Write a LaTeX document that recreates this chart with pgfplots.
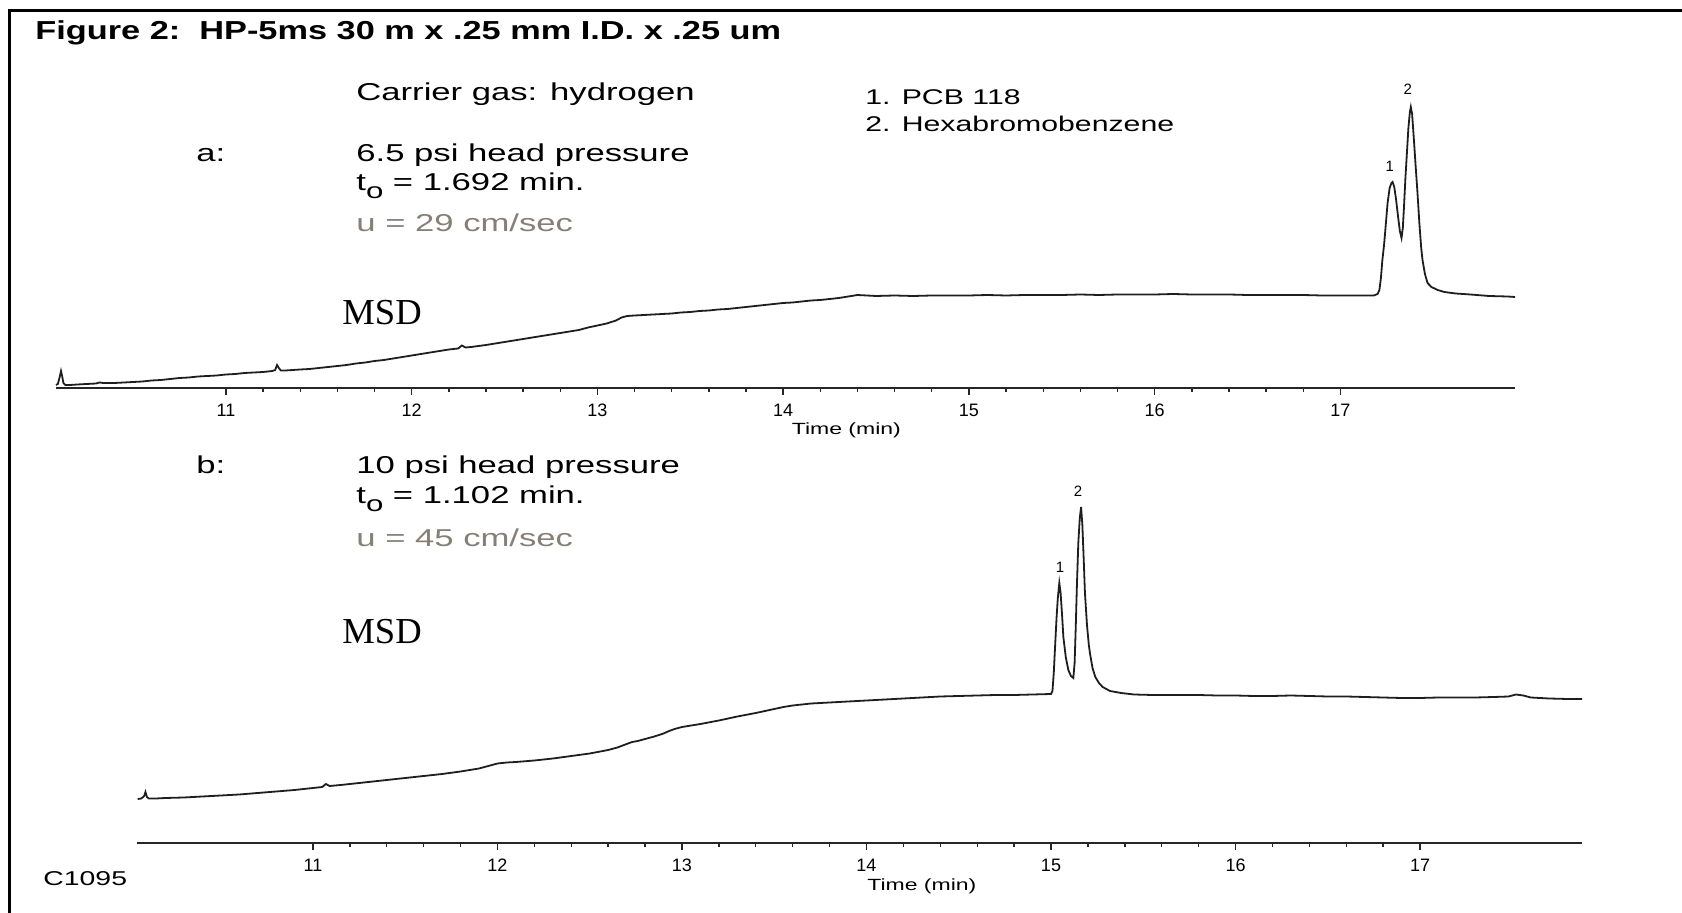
\documentclass[border=0pt]{standalone}
\usepackage{fontspec}
\setmainfont{Liberation Sans}
\newfontfamily\wfont[FakeStretch=1.42]{Liberation Sans}
\newfontfamily\tfont[FakeStretch=1.32]{Liberation Sans}
\newfontfamily\msdfont{Liberation Serif}
\usepackage{graphicx}
\usepackage{pgfplots}
\pgfplotsset{compat=1.18}
\definecolor{ugrey}{RGB}{135,127,118}
\definecolor{trace}{RGB}{30,30,30}
\newcommand{\tsub}{t\raisebox{-0.55ex}{\scalebox{0.9}{o}}}

\pgfplotstableread{
t h
10.085 3
10.095 4
10.105 11
10.112 17
10.118 12
10.125 5
10.135 3
10.16 3
10.20 3.5
10.25 4
10.30 4.5
10.32 5.5
10.34 5
10.40 5
10.45 5.5
10.50 6
10.55 6.5
10.60 7.5
10.65 8
10.70 9
10.75 10
10.80 10.5
10.85 11.5
10.90 12
10.95 12.5
11.00 13.5
11.05 14
11.10 15
11.15 15.5
11.20 16
11.25 17
11.265 18
11.275 23
11.285 20
11.295 17.5
11.32 17.5
11.36 18
11.40 18.5
11.45 19
11.50 20
11.55 21
11.60 22
11.65 23
11.70 24.5
11.75 25.5
11.80 27
11.85 28
11.90 29.5
11.95 31
12.00 32.5
12.05 34
12.10 35.5
12.15 37
12.20 38.5
12.25 39.5
12.27 42.5
12.29 40.5
12.32 41
12.36 42
12.40 43
12.45 44.5
12.50 46
12.55 47.5
12.60 49
12.65 50.5
12.70 52
12.75 53.5
12.80 55
12.85 56.5
12.90 58
12.95 60.5
13.00 62.5
13.05 64.5
13.10 67.5
13.13 70.5
13.16 72
13.20 72.5
13.25 73
13.30 73.5
13.35 74
13.40 74.5
13.45 75.5
13.50 76
13.55 77
13.60 77.5
13.65 78.5
13.70 79
13.75 80
13.80 81
13.85 82
13.90 83
13.95 84
14.00 85
14.05 85.5
14.10 86.5
14.15 87.5
14.20 88
14.25 89
14.30 90
14.35 91.5
14.40 93
14.45 92.5
14.50 92
14.60 92.5
14.70 92
14.80 92.5
14.90 92.5
15.00 92.5
15.10 93
15.20 92.5
15.30 93
15.40 93
15.50 93
15.60 93.5
15.70 93
15.80 93.5
15.90 93.5
16.00 93.5
16.10 94
16.20 93.5
16.30 93.5
16.40 93.5
16.50 93
16.60 93
16.70 93
16.80 93
16.90 92.5
17.00 92.5
17.10 92.5
17.18 92.5
17.20 94
17.21 98
17.218 110
17.226 128
17.236 145
17.245 165
17.254 185
17.265 200
17.275 205
17.281 206
17.290 201
17.300 188
17.310 172
17.320 157
17.329 150
17.336 160
17.342 180
17.350 210
17.358 235
17.366 260
17.374 276
17.379 281
17.386 274
17.395 250
17.405 222
17.415 195
17.425 165
17.435 140
17.442 128
17.455 114
17.469 105
17.49 101
17.523 98
17.56 96
17.62 94.5
17.70 93.5
17.80 92
17.90 91.5
17.94 91
}\topdata

\pgfplotstableread{
t h
10.05 44
10.07 44.5
10.085 47
10.092 51
10.10 46
10.11 44.5
10.15 44.5
10.20 45
10.30 45.5
10.40 46.5
10.50 47.5
10.60 48.5
10.70 50
10.80 51.5
10.90 53
11.00 55
11.05 56
11.07 59
11.09 57
11.15 58
11.20 59
11.30 61
11.40 63
11.50 65
11.60 67
11.70 69
11.80 71.5
11.90 74.5
11.95 77
12.00 79.5
12.05 80.5
12.10 81
12.20 82.5
12.30 84.5
12.40 87
12.50 89.5
12.60 93
12.65 95.5
12.70 99
12.73 101
12.76 102
12.80 104
12.85 106.5
12.90 109.5
12.93 112
12.96 114
13.00 116
13.05 117.5
13.10 119
13.20 122.5
13.30 126.5
13.40 130
13.50 134
13.55 136
13.60 137.5
13.65 138.5
13.70 139.5
13.80 140.5
13.90 141.5
14.00 142.5
14.10 143.5
14.20 144.5
14.30 145.5
14.40 146.5
14.50 147
14.60 147.5
14.70 148
14.80 148
14.90 148.5
15.000 149
15.008 152
15.015 170
15.022 196
15.030 225
15.037 245
15.045 260
15.052 250
15.060 228
15.067 206
15.080 186
15.094 173
15.108 167
15.121 165
15.128 180
15.134 215
15.140 255
15.148 300
15.156 325
15.163 336
15.170 318
15.177 285
15.184 250
15.195 218
15.205 198
15.211 190
15.225 175
15.240 166
15.260 160
15.280 156
15.32 152
15.38 150
15.45 148.5
15.55 148
15.70 148
15.80 148
15.90 147.5
16.00 147.5
16.10 147
16.20 147
16.30 147.5
16.40 147
16.50 146.5
16.60 146.5
16.70 146
16.80 145.5
16.90 145
17.00 145
17.10 145.5
17.20 145.5
17.30 145.5
17.40 146
17.48 146.5
17.52 148.5
17.56 147.5
17.60 145.5
17.70 144.5
17.80 144
17.878 144
}\botdata

\pgfplotsset{chrom/.style={
  scale only axis,
  axis x line=bottom, axis y line=none,
  axis line style={-, line width=0.9pt, color=black!85},
  enlargelimits=false, clip=false,
  xtick={11,12,13,14,15,16,17}, minor x tick num=4,
  tick align=outside, major tick length=3.5pt, minor tick length=1.8pt,
  every tick/.style={black!85, line width=0.7pt},
  xticklabel style={font=\fontsize{9}{10}\selectfont, yshift=-1pt},
  /pgf/number format/assume math mode=true,
  ymin=0,
}}

\begin{document}
\begin{tikzpicture}
\path[use as bounding box] (0pt,0pt) rectangle (841pt,-456.5pt);
\draw[line width=1.5pt] (4.5pt,-460pt) -- (4.5pt,-5.5pt) -- (845pt,-5.5pt);

\node[anchor=base west, inner sep=0pt, font=\tfont\bfseries\fontsize{13}{14}\selectfont] at (17.5pt,-20pt) {Figure 2:\ \ HP-5ms 30 m x .25 mm I.D. x .25 um};

\begin{scope}[every node/.style={anchor=base west, inner sep=0pt, font=\wfont\fontsize{12.2}{14}\selectfont}]
\node at (178pt,-50.5pt) {Carrier gas: hydrogen};
\node at (98pt,-81pt) {a:};
\node at (178pt,-81pt) {6.5 psi head pressure};
\node at (178pt,-95.5pt) {\tsub{} = 1.692 min.};
\node[text=ugrey] at (178pt,-116pt) {u = 29 cm/sec};
\node at (98pt,-237pt) {b:};
\node at (178pt,-237pt) {10 psi head pressure};
\node at (178pt,-252pt) {\tsub{} = 1.102 min.};
\node[text=ugrey] at (178pt,-273.5pt) {u = 45 cm/sec};
\end{scope}
\node[anchor=base west, inner sep=0pt, font=\wfont\fontsize{10.65}{12}\selectfont] at (432.5pt,-52.5pt) {1. PCB 118};
\node[anchor=base west, inner sep=0pt, font=\wfont\fontsize{10.65}{12}\selectfont] at (432.5pt,-66pt) {2. Hexabromobenzene};
\node[anchor=base west, inner sep=0pt, font=\msdfont\fontsize{18.3}{20}\selectfont] at (171pt,-162.5pt) {MSD};
\node[anchor=base west, inner sep=0pt, font=\msdfont\fontsize{18.3}{20}\selectfont] at (171pt,-322pt) {MSD};
\node[anchor=base west, inner sep=0pt, font=\wfont\fontsize{10}{12}\selectfont] at (21.5pt,-442.5pt) {C1095};

\begin{axis}[chrom, at={(28pt,-194pt)}, anchor=south west,
  width=729.5pt, height=150pt, xmin=10.085, xmax=17.94, ymax=300]
\addplot[trace, line width=0.9pt] table[x=t, y=h] {\topdata};
\node[font=\fontsize{7.5}{8}\selectfont] at (axis cs:17.363,299) {2};
\node[font=\fontsize{7.5}{8}\selectfont] at (axis cs:17.266,222) {1};
\node[font=\wfont\fontsize{8.1}{9}\selectfont] at (axis cs:14.34,0) [yshift=-21pt] {Time (min)};
\end{axis}

\begin{axis}[chrom, at={(68.3pt,-421.5pt)}, anchor=south west,
  width=722.7pt, height=175pt, xmin=10.044, xmax=17.878, ymax=350]
\addplot[trace, line width=0.9pt] table[x=t, y=h] {\botdata};
\node[font=\fontsize{7.5}{8}\selectfont] at (axis cs:15.146,352) {2};
\node[font=\fontsize{7.5}{8}\selectfont] at (axis cs:15.049,276) {1};
\node[font=\wfont\fontsize{8.1}{9}\selectfont] at (axis cs:14.30,0) [yshift=-21.5pt] {Time (min)};
\end{axis}
\end{tikzpicture}
\end{document}
